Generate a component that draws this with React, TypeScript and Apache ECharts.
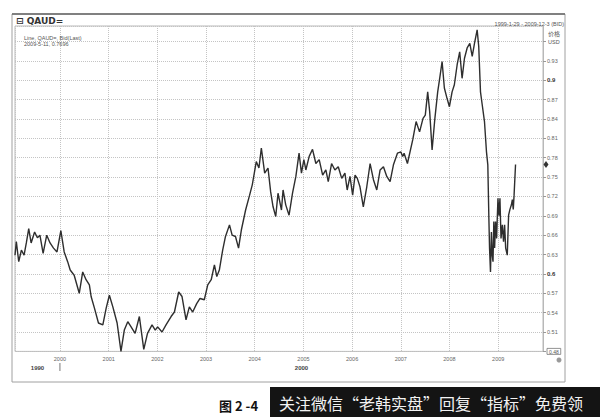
import React, { useEffect, useRef } from 'react';
import * as echarts from 'echarts';

// ---- data (AUD/USD bid, QAUD=) ----
const dates: string[] = [
  '1999-01-29', '1999-02-08', '1999-02-26', '1999-03-18', '1999-04-07', '1999-04-24', '1999-05-12', '1999-05-30',
  '1999-06-25', '1999-07-16', '1999-08-04', '1999-08-28', '1999-09-24', '1999-10-19', '1999-11-14', '1999-12-10',
  '2000-01-08', '2000-02-02', '2000-02-28', '2000-03-18', '2000-04-17', '2000-05-25', '2000-06-20', '2000-07-15',
  '2000-08-09', '2000-08-22', '2000-09-16', '2000-10-16', '2000-11-18', '2000-12-13', '2001-01-06', '2001-02-01',
  '2001-03-05', '2001-04-03', '2001-04-28', '2001-05-24', '2001-06-18', '2001-07-18', '2001-08-19', '2001-09-21',
  '2001-10-19', '2001-11-22', '2001-12-16', '2002-01-03', '2002-02-05', '2002-03-07', '2002-04-14', '2002-05-09',
  '2002-06-10', '2002-07-05', '2002-08-04', '2002-08-29', '2002-09-23', '2002-10-23', '2002-11-17', '2002-12-19',
  '2003-01-14', '2003-02-09', '2003-03-05', '2003-03-23', '2003-04-11', '2003-05-06', '2003-05-27', '2003-06-26',
  '2003-07-16', '2003-08-10', '2003-09-02', '2003-09-23', '2003-10-25', '2003-11-24', '2003-12-14', '2004-01-13',
  '2004-02-02', '2004-02-20', '2004-03-16', '2004-04-10', '2004-04-30', '2004-05-18', '2004-06-07', '2004-06-24',
  '2004-07-20', '2004-08-01', '2004-08-21', '2004-09-15', '2004-10-11', '2004-11-05', '2004-11-29', '2004-12-17',
  '2005-01-04', '2005-01-19', '2005-02-13', '2005-03-10', '2005-04-04', '2005-04-29', '2005-05-25', '2005-06-18',
  '2005-07-06', '2005-07-31', '2005-08-25', '2005-09-19', '2005-10-15', '2005-11-08', '2005-11-25', '2005-12-16',
  '2006-01-05', '2006-01-23', '2006-02-09', '2006-03-01', '2006-03-26', '2006-04-21', '2006-05-16', '2006-06-10',
  '2006-07-05', '2006-07-30', '2006-08-24', '2006-09-18', '2006-10-13', '2006-11-07', '2006-12-07', '2007-01-02',
  '2007-01-15', '2007-01-26', '2007-02-20', '2007-04-01', '2007-04-26', '2007-05-22', '2007-06-17', '2007-07-04',
  '2007-07-22', '2007-08-06', '2007-08-24', '2007-09-13', '2007-10-05', '2007-10-20', '2007-11-07', '2007-11-24',
  '2007-12-14', '2008-01-01', '2008-01-21', '2008-02-07', '2008-02-28', '2008-03-18', '2008-04-05', '2008-04-23',
  '2008-05-13', '2008-06-02', '2008-06-20', '2008-07-07', '2008-07-27', '2008-08-08', '2008-08-21', '2008-09-03',
  '2008-09-20', '2008-10-05', '2008-10-15', '2008-10-23', '2008-10-28', '2008-11-04', '2008-11-11', '2008-11-17',
  '2008-11-23', '2008-11-29', '2008-12-05', '2008-12-12', '2008-12-20', '2008-12-30', '2009-01-07', '2009-01-14',
  '2009-01-22', '2009-02-01', '2009-02-10', '2009-02-18', '2009-02-26', '2009-03-10', '2009-03-20', '2009-03-30',
  '2009-04-10', '2009-04-17', '2009-04-24', '2009-04-30', '2009-05-11',
];

const rates: number[] = [
  0.629, 0.650, 0.619, 0.637, 0.629, 0.648, 0.670, 0.648,
  0.665, 0.656, 0.660, 0.632, 0.660, 0.648, 0.640, 0.634,
  0.667, 0.634, 0.619, 0.606, 0.598, 0.570, 0.603, 0.591,
  0.583, 0.565, 0.547, 0.524, 0.521, 0.547, 0.567, 0.549,
  0.524, 0.480, 0.513, 0.526, 0.518, 0.508, 0.534, 0.483,
  0.508, 0.521, 0.513, 0.518, 0.510, 0.521, 0.534, 0.541,
  0.572, 0.565, 0.529, 0.549, 0.541, 0.554, 0.562, 0.560,
  0.583, 0.591, 0.614, 0.596, 0.606, 0.637, 0.658, 0.676,
  0.660, 0.658, 0.640, 0.668, 0.699, 0.722, 0.738, 0.774,
  0.764, 0.795, 0.756, 0.764, 0.727, 0.704, 0.689, 0.725,
  0.699, 0.730, 0.707, 0.691, 0.725, 0.751, 0.787, 0.756,
  0.777, 0.761, 0.782, 0.793, 0.771, 0.777, 0.753, 0.761,
  0.743, 0.771, 0.761, 0.766, 0.748, 0.756, 0.730, 0.751,
  0.722, 0.753, 0.748, 0.735, 0.704, 0.735, 0.771, 0.746,
  0.730, 0.761, 0.766, 0.751, 0.743, 0.769, 0.787, 0.789,
  0.782, 0.787, 0.771, 0.808, 0.836, 0.820, 0.841, 0.846,
  0.882, 0.851, 0.792, 0.839, 0.882, 0.903, 0.929, 0.888,
  0.872, 0.859, 0.882, 0.893, 0.924, 0.944, 0.903, 0.934,
  0.950, 0.957, 0.937, 0.957, 0.978, 0.952, 0.882, 0.862,
  0.836, 0.789, 0.769, 0.686, 0.640, 0.603, 0.665, 0.630,
  0.619, 0.681, 0.640, 0.681, 0.655, 0.717, 0.690, 0.717,
  0.655, 0.676, 0.650, 0.676, 0.640, 0.629, 0.691, 0.700,
  0.707, 0.715, 0.700, 0.722, 0.7696,
];

const axisStart = '1999-01-29';
const axisEnd = '2009-12-03';
const decadeLabels = ['1990', '2000'];
const decadeBounds = ['1999-01-29', '2000-01-01', '2009-12-03'];
const yMin = 0.48;
const yMax = 0.984;
const yStep = 0.03;
const yLabelMaxShown = 0.93;
const lastDate = '2009-05-11';
const lastRate = 0.7696;
const rangeText = '1999-1-29 - 2009-12-3 (BID)';
const infoLines = ['Line, QAUD=, Bid(Last)', '2009-5-11, 0.7696'];
const bannerText = '关注微信“老韩实盘”回复“指标”免费领';
const figureText = '图 2 -4';

const YEAR = 365 * 24 * 3600 * 1000;
const FONT = '"Liberation Sans", Arial, sans-serif';

const toMs = (s: string) => {
  const [y, m, d] = s.split('-').map(Number);
  return new Date(y, m - 1, d).getTime();
};

export default function App() {
  const ref = useRef<HTMLDivElement>(null);

  useEffect(() => {
    const chart = echarts.init(ref.current!, null, { renderer: 'svg' });
    chart.setOption({
      animation: false,
      backgroundColor: '#ffffff',
      grid: {
        left: 15, top: 26, width: 528, height: 325.4,
        show: true, borderColor: '#b8b8b8', borderWidth: 1, backgroundColor: 'transparent',
      },
      xAxis: {
        type: 'time',
        min: axisStart,
        max: axisEnd,
        splitNumber: 11,
        minInterval: YEAR,
        maxInterval: YEAR,
        axisLine: { show: false },
        axisTick: { show: false },
        axisLabel: {
          margin: 5,
          fontSize: 5.5,
          color: '#666',
          fontFamily: FONT,
          hideOverlap: false,
          formatter: (v: number) => {
            const d = new Date(v);
            return d.getMonth() === 0 && d.getDate() === 1 ? String(d.getFullYear()) : '';
          },
        },
        splitLine: { show: true, lineStyle: { type: 'dotted', color: '#c4c4c4', width: 1 } },
      },
      yAxis: {
        type: 'value',
        position: 'right',
        min: yMin,
        max: yMax,
        interval: yStep,
        axisLine: { show: true, lineStyle: { color: '#b8b8b8' } },
        axisTick: { show: true, length: 3, lineStyle: { color: '#999' } },
        axisLabel: {
          margin: 4,
          fontSize: 5.5,
          color: '#666',
          fontFamily: FONT,
          showMaxLabel: false,
          formatter: (v: number) => {
            if (v > yLabelMaxShown + 1e-6 || v < yMin - 1e-6) return '';
            const s = String(+v.toFixed(2));
            if (Math.abs(v - yMin) < 1e-6) return '{box|' + s + '}';
            if (Math.abs(v * 10 - Math.round(v * 10)) < 1e-6) return '{b|' + s + '}';
            return s;
          },
          rich: {
            box: { borderColor: '#777', borderWidth: 0.8, padding: [1, 2, 0, 2], fontSize: 5, color: '#555', fontFamily: FONT },
            b: { fontWeight: 'bold', color: '#333', fontSize: 6, fontFamily: FONT },
          },
        },
        splitLine: { show: true, lineStyle: { type: 'dotted', color: '#c4c4c4', width: 1 } },
      },
      series: [
        {
          type: 'line',
          data: dates.map((d, i) => [d, rates[i]]),
          showSymbol: false,
          symbol: 'none',
          lineStyle: { color: '#2e2e2e', width: 1.4 },
          markPoint: {
            symbol: 'diamond',
            symbolSize: [5, 7],
            symbolOffset: [3, 0],
            itemStyle: { color: '#333' },
            label: { show: false },
            data: [{ coord: [axisEnd, lastRate], name: lastDate }],
          },
        },
      ],
    });

    const px = (s: string) => chart.convertToPixel({ xAxisIndex: 0 }, toMs(s)) as number;
    const b = decadeBounds.map(px);
    const text = (x: number, y: number, t: string, font: string, fill: string, align = 'left') => ({
      type: 'text', x, y, silent: true,
      style: { text: t, font, fill, align, verticalAlign: 'middle' },
    });

    chart.setOption({
      graphic: [
        { type: 'rect', silent: true, shape: { x: 12, y: 14, width: 553, height: 368 }, style: { fill: 'none', stroke: '#a0a0a0', lineWidth: 1 } },
        { type: 'line', silent: true, shape: { x1: 12, y1: 14, x2: 565, y2: 14 }, style: { stroke: '#666', lineWidth: 1.5 } },
        text(16, 20.5, '⊟ QAUD=', 'bold 9px "DejaVu Sans", sans-serif', '#333'),
        text(24, 37.5, infoLines[0], '5.5px ' + FONT, '#555'),
        text(24, 44, infoLines[1], '5.5px ' + FONT, '#555'),
        text(564, 23.5, rangeText, '5.5px ' + FONT, '#555', 'right'),
        text(548, 33, '价格', '6px "Noto Sans CJK SC", sans-serif', '#555'),
        text(548, 42, 'USD', '5.5px ' + FONT, '#555'),
        text((b[0] + b[1]) / 2, 368, decadeLabels[0], 'bold 6px ' + FONT, '#444', 'center'),
        text((b[1] + b[2]) / 2, 368, decadeLabels[1], 'bold 6px ' + FONT, '#444', 'center'),
        { type: 'line', silent: true, shape: { x1: b[1], y1: 363, x2: b[1], y2: 371 }, style: { stroke: '#555', lineWidth: 0.8 } },
        { type: 'circle', silent: true, shape: { cx: 559, cy: 360, r: 2.5 }, style: { fill: '#999' } },
        { type: 'rect', silent: true, shape: { x: 270, y: 387, width: 330, height: 30 }, style: { fill: '#141414' } },
        text(279, 403, bannerText, '16px "Noto Sans CJK SC", sans-serif', '#f2f2f2'),
        text(219, 405, figureText, 'bold 13px "Noto Sans CJK SC", sans-serif', '#111'),
      ],
    });

    return () => chart.dispose();
  }, []);

  return <div ref={ref} style={{ position: 'fixed', left: 0, top: 0, width: 600, height: 417 }} />;
}
